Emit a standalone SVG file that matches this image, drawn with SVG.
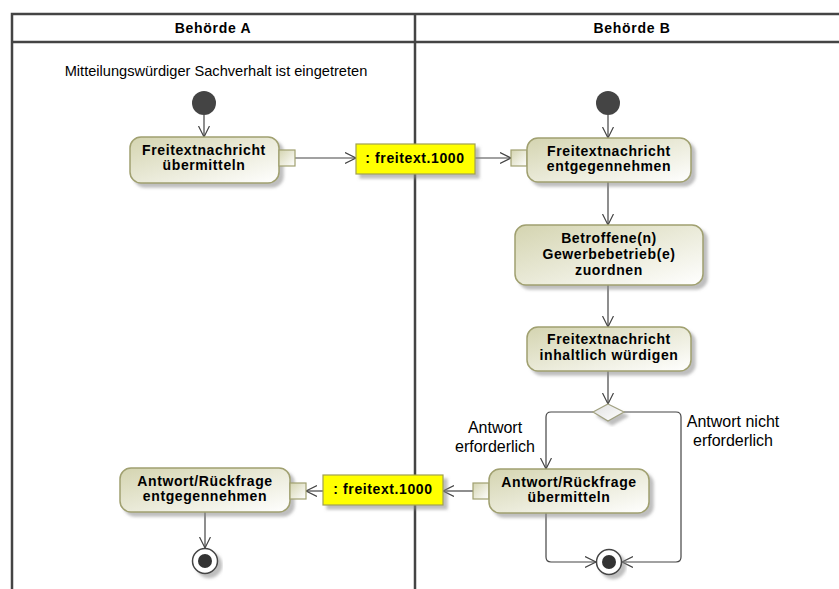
<svg xmlns="http://www.w3.org/2000/svg" width="839" height="589" viewBox="0 0 839 589">
<style>
.lane{fill:none;stroke:#444;stroke-width:2.5}
.hdr{font-family:"Liberation Sans",Arial,sans-serif;font-weight:bold;font-size:14px;fill:#000;text-anchor:middle;letter-spacing:0.7px}
.act{fill:url(#ag);stroke:#a0a070;stroke-width:1.5}
.pin{fill:url(#ag);stroke:#a0a070;stroke-width:1.2}
.obj{fill:#ffff00;stroke:#a0a050;stroke-width:1.2}
.at{font-family:"Liberation Sans",Arial,sans-serif;font-weight:bold;font-size:14px;fill:#000;text-anchor:middle;letter-spacing:0.6px}
.lbl{font-family:"Liberation Sans",Arial,sans-serif;font-size:14.6px;fill:#000;text-anchor:middle}
.dl{font-family:"Liberation Sans",Arial,sans-serif;font-size:16px;fill:#000;text-anchor:middle}
.edge{fill:none;stroke:#444;stroke-width:1.2}
.init{fill:#444}
</style>
<defs>
<linearGradient id="ag" x1="0" y1="0" x2="1" y2="1">
<stop offset="0" stop-color="#d4d4b0"/>
<stop offset="1" stop-color="#ffffff"/>
</linearGradient>
<linearGradient id="dg" x1="0" y1="0" x2="1" y2="1">
<stop offset="0" stop-color="#e0e0e0"/>
<stop offset="1" stop-color="#ffffff"/>
</linearGradient>
<filter id="sh" x="-10%" y="-10%" width="130%" height="140%">
<feDropShadow dx="4" dy="4" stdDeviation="1.5" flood-color="#888" flood-opacity="0.55"/>
</filter>
<marker id="arr" markerUnits="userSpaceOnUse" markerWidth="14" markerHeight="14" refX="11" refY="6" orient="auto">
<path d="M0,0.5 L11,6 L0,11.5" fill="none" stroke="#444" stroke-width="1.2"/>
</marker>
</defs>

<g id="swimlanes">
<rect class="lane" x="12" y="14" width="840" height="590"/>
<line class="lane" x1="12" y1="42" x2="852" y2="42"/>
<line class="lane" x1="415" y1="14" x2="415" y2="600"/>
<text class="hdr" x="213" y="33">Behörde A</text>
<text class="hdr" x="632" y="33">Behörde B</text>
</g>

<g id="connectors">
<line class="edge" x1="204" y1="115" x2="204" y2="137" marker-end="url(#arr)"/>
<line class="edge" x1="295" y1="158" x2="356" y2="158" marker-end="url(#arr)"/>
<line class="edge" x1="475" y1="158" x2="511" y2="158" marker-end="url(#arr)"/>
<line class="edge" x1="608" y1="115" x2="608" y2="138" marker-end="url(#arr)"/>
<line class="edge" x1="608" y1="182" x2="608" y2="225" marker-end="url(#arr)"/>
<line class="edge" x1="608" y1="285" x2="608" y2="327" marker-end="url(#arr)"/>
<line class="edge" x1="608" y1="371" x2="608" y2="404" marker-end="url(#arr)"/>
<path class="edge" d="M593,412 L551,412 Q546,412 546,417 L546,469" marker-end="url(#arr)"/>
<path class="edge" d="M624,412 L676,412 Q681,412 681,417 L681,557 Q681,562 676,562 L622,562" marker-end="url(#arr)"/>
<path class="edge" d="M546,513 L546,557 Q546,562 551,562 L596,562" marker-end="url(#arr)"/>
<line class="edge" x1="473" y1="491" x2="443" y2="491" marker-end="url(#arr)"/>
<line class="edge" x1="323" y1="491" x2="306" y2="491" marker-end="url(#arr)"/>
<line class="edge" x1="205" y1="512" x2="205" y2="548" marker-end="url(#arr)"/>
<text class="dl" x="495" y="433">Antwort</text>
<text class="dl" x="495" y="452">erforderlich</text>
<text class="dl" x="733" y="427">Antwort nicht</text>
<text class="dl" x="733" y="446">erforderlich</text>
</g>

<g id="start-label">
<text class="lbl" x="216" y="76">Mitteilungswürdiger Sachverhalt ist eingetreten</text>
</g>

<g id="initial-a">
<circle class="init" cx="204" cy="103" r="12"/>
</g>
<g id="initial-b">
<circle class="init" cx="608" cy="103" r="12"/>
</g>

<g id="act-uebermitteln-a">
<rect class="act" x="130" y="137" width="149" height="46" rx="11" filter="url(#sh)"/>
<rect class="pin" x="279" y="150" width="16" height="16"/>
<text class="at" x="204" y="155">Freitextnachricht</text>
<text class="at" x="204" y="170">übermitteln</text>
</g>

<g id="obj-1">
<rect class="obj" x="356" y="144" width="119" height="30" filter="url(#sh)"/>
<text class="at" x="415" y="163">: freitext.1000</text>
</g>

<g id="act-entgegennehmen-b">
<rect class="pin" x="511" y="150" width="16" height="16"/>
<rect class="act" x="527" y="138" width="164" height="44" rx="11" filter="url(#sh)"/>
<text class="at" x="609" y="156">Freitextnachricht</text>
<text class="at" x="609" y="171">entgegennehmen</text>
</g>

<g id="act-zuordnen">
<rect class="act" x="515" y="225" width="188" height="60" rx="11" filter="url(#sh)"/>
<text class="at" x="609" y="243">Betroffene(n)</text>
<text class="at" x="609" y="259">Gewerbebetrieb(e)</text>
<text class="at" x="609" y="275">zuordnen</text>
</g>

<g id="act-wuerdigen">
<rect class="act" x="527" y="327" width="164" height="44" rx="11" filter="url(#sh)"/>
<text class="at" x="609" y="344">Freitextnachricht</text>
<text class="at" x="609" y="360">inhaltlich würdigen</text>
</g>

<g id="decision">
<polygon points="608,404 624,412 608,421 593,412" fill="url(#dg)" stroke="#a0a080" stroke-width="1.2" filter="url(#sh)"/>
</g>

<g id="act-antwort-uebermitteln">
<rect class="pin" x="473" y="483" width="16" height="16"/>
<rect class="act" x="489" y="469" width="160" height="44" rx="11" filter="url(#sh)"/>
<text class="at" x="569" y="487">Antwort/Rückfrage</text>
<text class="at" x="569" y="502">übermitteln</text>
</g>

<g id="obj-2">
<rect class="obj" x="323" y="475" width="120" height="30" filter="url(#sh)"/>
<text class="at" x="383" y="494">: freitext.1000</text>
</g>

<g id="act-antwort-entgegennehmen">
<rect class="act" x="120" y="468" width="170" height="44" rx="11" filter="url(#sh)"/>
<rect class="pin" x="290" y="483" width="16" height="16"/>
<text class="at" x="205" y="486">Antwort/Rückfrage</text>
<text class="at" x="205" y="501">entgegennehmen</text>
</g>

<g id="final-a">
<circle cx="205" cy="561" r="12.5" fill="#fff" stroke="#444" stroke-width="1.5" filter="url(#sh)"/>
<circle cx="205" cy="561" r="7" fill="#333"/>
</g>
<g id="final-b">
<circle cx="609" cy="562" r="12.5" fill="#fff" stroke="#444" stroke-width="1.5" filter="url(#sh)"/>
<circle cx="609" cy="562" r="7" fill="#333"/>
</g>
</svg>
